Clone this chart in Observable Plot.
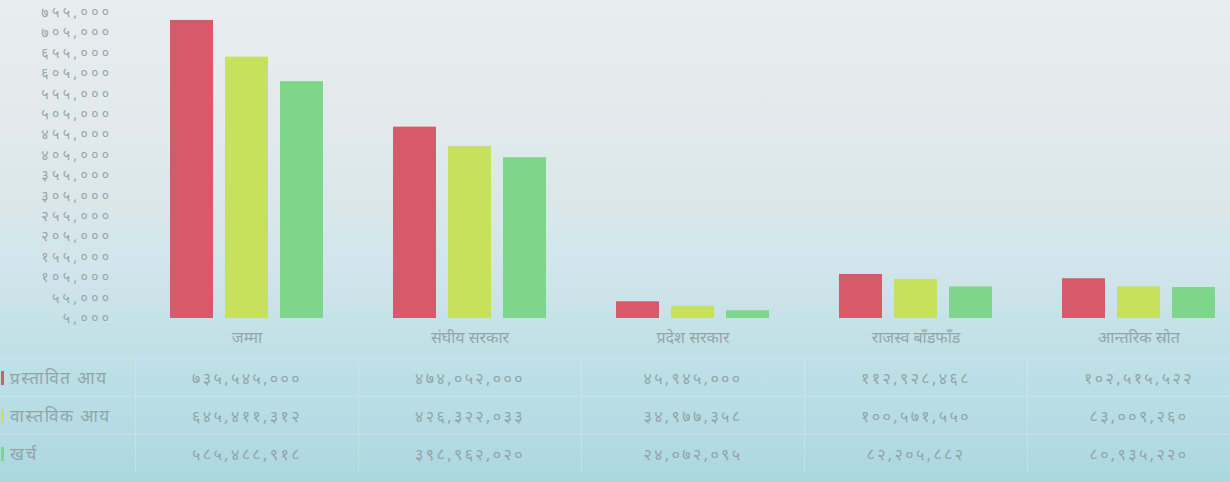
<!DOCTYPE html>
<html>
<head>
<meta charset="utf-8">
<script src="https://cdn.jsdelivr.net/npm/d3@7"></script>
<script src="https://cdn.jsdelivr.net/npm/@observablehq/plot@0.6"></script>
<style>
  html, body { margin: 0; padding: 0; }
  body {
    width: 1230px; height: 482px; overflow: hidden; position: relative;
    background: linear-gradient(to bottom, #e8edee 0%, #e0e9eb 30%, #d2e5ea 55%, #c2e1e7 70%, #b7dde5 85%, #acd7e0 100%);
    font-family: "Noto Sans", "DejaVu Sans", sans-serif;
  }
  #chart { position: absolute; left: 0; top: 0; width: 1230px; overflow: hidden; }
  #chart svg { overflow: hidden; }
  #tbl { position: absolute; left: 0; top: 358px; width: 1250px; color: #93a4a9; font-size: 16px; letter-spacing: 2.4px; }
  .row { display: flex; height: 38px; align-items: center; border-top: 1px solid rgba(255,255,255,0.2); box-sizing: border-box; }
  .cell { width: 223px; text-align: center; height: 100%; display: flex; align-items: center; justify-content: center; border-left: 1px solid rgba(255,255,255,0.22); box-sizing: border-box; }
  .lab { width: 135px; padding-left: 10px; box-sizing: border-box; position: relative; height: 100%; display: flex; align-items: center; letter-spacing: 1.5px; font-size: 17px; }
  .mark { position: absolute; left: 1px; width: 3px; height: 14px; }
</style>
</head>
<body>
<div id="chart"></div>
<div id="tbl"></div>
<script>
// Categories (x groups)
const categories = ["जम्मा", "संघीय सरकार", "प्रदेश सरकार", "राजस्व बाँडफाँड", "आन्तरिक स्रोत"];
// Series
const series = ["प्रस्तावित आय", "वास्तविक आय", "खर्च"];
const seriesColors = ["#d75a6b", "#c7e05d", "#7dd68b"];
// Values (rupees)
const proposedIncome = [735545000, 474052000, 45945000, 112928468, 102515522];
const actualIncome   = [645411312, 426322033, 34977358, 100571550, 83009260];
const expenditure    = [585488918, 398962020, 24072095, 82205882, 80935220];
// Y axis ticks (thousands, as labelled)
const yTicks = [5000, 55000, 105000, 155000, 205000, 255000, 305000, 355000, 405000, 455000, 505000, 555000, 605000, 655000, 705000, 755000];

const devDigits = "०१२३४५६७८९";
const toDev = s => String(s).replace(/\d/g, d => devDigits[+d]);
const fmt = n => toDev(d3.format(",")(n));

const seriesValues = [proposedIncome, actualIncome, expenditure];
const data = [];
categories.forEach((c, i) => {
  series.forEach((s, j) => {
    data.push({category: c, series: s, value: seriesValues[j][i] / 1000});
  });
});

const chart = Plot.plot({
  width: 1230,
  height: 358,
  marginLeft: 135,
  marginRight: -20,
  marginTop: 12,
  marginBottom: 40,
  style: {background: "transparent", color: "#95a5aa", fontSize: "16px", fontFamily: "'Noto Sans', 'DejaVu Sans', sans-serif", overflow: "hidden"},
  fx: {domain: categories, padding: 0, label: null, axis: "bottom", tickSize: 0, tickPadding: 13},
  x: {domain: series, paddingInner: 0.214, paddingOuter: 0.6, axis: null},
  y: {domain: [5000, 755000], ticks: yTicks, tickFormat: fmt, tickSize: 0, tickPadding: 23, label: null},
  color: {domain: series, range: seriesColors},
  marks: [
    Plot.barY(data, {fx: "category", x: "series", y1: 5000, y2: "value", fill: "series"})
  ]
});
chart.querySelectorAll("g[aria-label='y-axis tick label']").forEach(e => { e.style.letterSpacing = "3.4px"; e.style.fontSize = "14px"; });
document.getElementById("chart").appendChild(chart);

// Data table
const tbl = document.getElementById("tbl");
series.forEach((s, j) => {
  const row = document.createElement("div");
  row.className = "row";
  const lab = document.createElement("div");
  lab.className = "lab";
  const mk = document.createElement("span");
  mk.className = "mark";
  mk.style.background = seriesColors[j];
  lab.appendChild(mk);
  lab.appendChild(document.createTextNode(s));
  row.appendChild(lab);
  categories.forEach((c, i) => {
    const cell = document.createElement("div");
    cell.className = "cell";
    cell.textContent = fmt(seriesValues[j][i]);
    row.appendChild(cell);
  });
  tbl.appendChild(row);
});
</script>
</body>
</html>
